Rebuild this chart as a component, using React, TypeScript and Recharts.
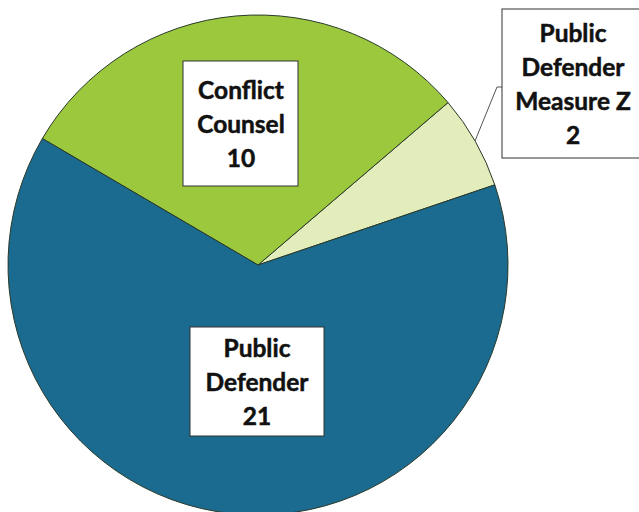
import { PieChart, Pie, Cell } from "recharts";

const categories = ["Public Defender Measure Z", "Conflict Counsel", "Public Defender"];
const values = [2, 10, 21];
const labelLines = [
  ["Public", "Defender", "Measure Z", "2"],
  ["Conflict", "Counsel", "10"],
  ["Public", "Defender", "21"],
];
const colors = ["#E3ECBB", "#9BC83C", "#1B6A8F"];

const data = categories.map((name, i) => ({ name, value: values[i] }));

// label box placement relative to pie centre (layout only)
const boxes = [
  { dx: 244, dy: -256, w: 150, h: 149, tx: 315 },
  { dx: -75, dy: -204, w: 115, h: 125, tx: -17 },
  { dx: -68, dy: 62, w: 134, h: 109, tx: -1 },
];

const renderLabel = (props: any) => {
  const { cx, cy, index } = props;
  const b = boxes[index];
  const lines = labelLines[index];
  const x = cx + b.dx;
  const y = cy + b.dy;
  const lineH = 34;
  const firstBase = y + b.h / 2 - ((lines.length - 1) * lineH) / 2 + 9;
  return (
    <g key={`lbl-${index}`}>
      {index === 0 && (
        <polyline
          points={`${x},${cy - 178} ${x - 5},${cy - 178} ${cx + 217},${cy - 124}`}
          fill="none"
          stroke="#555"
          strokeWidth={1}
        />
      )}
      <rect x={x} y={y} width={b.w} height={b.h} fill="#fff" stroke="#333" strokeWidth={1} />
      {lines.map((t, i) => (
        <text
          key={i}
          x={cx + b.tx}
          y={firstBase + i * lineH}
          textAnchor="middle"
          fontFamily="Lato, 'Open Sans', sans-serif"
          fontWeight={700}
          fontSize={24.5}
          fill="#111"
          stroke="#111"
          strokeWidth={0.5}
        >
          {t}
        </text>
      ))}
    </g>
  );
};

export default function App() {
  return (
    <div style={{ position: "absolute", left: 0, top: 0, width: 639, height: 512, background: "#fff" }}>
      <PieChart width={639} height={512} margin={{ top: 0, right: 0, bottom: 0, left: 0 }}>
        <Pie
          data={data}
          dataKey="value"
          nameKey="name"
          cx={258}
          cy={265}
          outerRadius={250}
          startAngle={18.7}
          endAngle={378.7}
          stroke="#2a3a2a"
          strokeWidth={1}
          label={renderLabel}
          labelLine={false}
          isAnimationActive={false}
        >
          {data.map((d, i) => (
            <Cell key={d.name} fill={colors[i]} />
          ))}
        </Pie>
      </PieChart>
    </div>
  );
}
